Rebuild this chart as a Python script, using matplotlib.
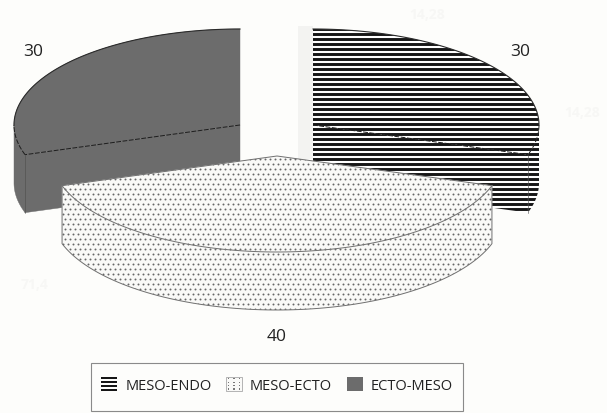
import numpy as np
import matplotlib
matplotlib.use('Agg')
import matplotlib.pyplot as plt
from matplotlib.legend_handler import HandlerBase
from matplotlib.patches import Patch, Polygon, Rectangle

# pie shares, clockwise from 12 o'clock
categories = ['MESO-ENDO', 'MESO-ECTO', 'ECTO-MESO']
values = [30, 40, 30]
value_labels = ['30', '40', '30']
ghost_labels = ['14,28', '14,28', '71,4']

plt.rcParams['font.family'] = ['Open Sans', 'DejaVu Sans']

paper = '#fdfdfb'
rx, ry, depth = 226, 96, 58
# exploded apex of each slice, in pixels
apex = {'MESO-ENDO': (313, 126), 'MESO-ECTO': (277, 157), 'ECTO-MESO': (240, 126)}
label_pos = {'MESO-ENDO': (520, 52), 'MESO-ECTO': (277, 337), 'ECTO-MESO': (33, 52)}
fills = {'MESO-ENDO': 'white', 'MESO-ECTO': '#f9f9f7', 'ECTO-MESO': '#6c6c6c'}
layer = {'ECTO-MESO': 2, 'MESO-ENDO': 3, 'MESO-ECTO': 4}  # front slice goes on top


def rim(cx, cy, a0, a1, drop=0):
    # ellipse points between two clockwise angles, degrees from 12 o'clock
    t = np.radians(np.linspace(a0, a1, 90))
    return np.column_stack([cx + rx * np.sin(t), cy - ry * np.cos(t) + drop])


def add_texture(ax, name, patch):
    # stripes and dots sit on a fixed 5 px pitch and get clipped to the face
    z = layer[name] + 0.2
    if name == 'MESO-ENDO':
        art = ax.hlines(np.arange(30, 220, 5.0), 300, 550, color='#161616', lw=2.1, zorder=z)
        art.set_clip_path(patch)
    elif name == 'MESO-ECTO':
        ys = np.arange(150, 320, 5.0)
        for k, y in enumerate(ys):
            xs = np.arange(55, 500, 5.0) + (k % 2) * 2.5
            art = ax.scatter(xs, np.full_like(xs, y), s=2.0, color='#666666', linewidths=0, zorder=z)
            art.set_clip_path(patch)


def face(ax, name, pts):
    patch = Polygon(pts, closed=True, facecolor=fills[name], edgecolor=fills[name],
                    linewidth=0.3, zorder=layer[name])
    ax.add_patch(patch)
    add_texture(ax, name, patch)


def draw_slice(ax, name, a0, a1):
    cx, cy = apex[name]
    top = rim(cx, cy, a0, a1)
    z = layer[name] + 0.4

    # radial wall, only where it faces the viewer
    for ang, vis in ((a0, 180 < a0 < 360), (a1, 0 < a1 < 180)):
        if vis:
            end = rim(cx, cy, ang, ang)[0]
            face(ax, name, [(cx, cy), end, end + (0, depth), (cx, cy + depth)])

    # outer wall on the front half of the rim
    lo, hi = max(a0, 90), min(a1, 270)
    if lo < hi:
        face(ax, name, np.vstack([rim(cx, cy, lo, hi), rim(cx, cy, hi, lo, depth)]))

    face(ax, name, np.vstack([[(cx, cy)], top]))

    if name == 'MESO-ECTO':
        line = dict(color='#707070', lw=0.7, zorder=z)
        ax.plot(*np.vstack([top[0], [(cx, cy)], top[-1]]).T, **line)
        ax.plot(*top.T, **line)
        lower = rim(cx, cy, a0, a1, depth)
        ax.plot(*np.vstack([top[0], lower, top[-1]]).T, **line)
    else:
        left = name == 'ECTO-MESO'
        edge = top[0] if left else top[-1]
        dash = dict(color='#1c1c1c', lw=0.7, ls=(0, (5, 1.5)), zorder=z)
        ax.plot([cx, edge[0]], [cy, edge[1]], **dash)
        ax.plot(*(rim(cx, cy, 252, 270) if left else rim(cx, cy, 90, 108)).T, **dash)
        ax.plot([edge[0], edge[0]], [edge[1], edge[1] + depth], color='#4a4a4a', lw=0.4, zorder=z)
        back = rim(cx, cy, 270, 360) if left else rim(cx, cy, 0, 90)
        ax.plot(*back.T, color='#2a2a2a', lw=0.8, zorder=z)


class SwatchHandler(HandlerBase):
    # small key boxes, drawn the same way as the slice they stand for
    def create_artists(self, legend, orig_handle, xd, yd, width, height, fontsize, trans):
        name = orig_handle.get_label()
        x0, y0 = -xd, -yd
        arts = []
        if name == 'MESO-ENDO':
            for k in range(4):
                arts.append(Rectangle((x0, y0 + k * height / 3.6), width, height * 0.17,
                                      facecolor='#161616', edgecolor='none'))
        elif name == 'MESO-ECTO':
            arts.append(Rectangle((x0, y0), width, height, facecolor=fills[name],
                                  edgecolor='#a8a8a8', linewidth=0.6))
            for i in range(3):
                for j in range(4):
                    arts.append(Rectangle((x0 + (i + 0.4) * width / 3, y0 + (j + 0.35) * height / 4),
                                          0.9, 0.9, facecolor='#777777', edgecolor='none'))
        else:
            arts.append(Rectangle((x0, y0), width, height, facecolor=fills[name], edgecolor='none'))
        for a in arts:
            a.set_transform(trans)
        return arts


fig = plt.figure(figsize=(6.07, 4.14), dpi=100, facecolor=paper)
ax = fig.add_axes([0, 0, 1, 1])
ax.set_xlim(0, 607)
ax.set_ylim(414, 0)
ax.axis('off')

# faint print-through from the other side of the sheet
ax.axvspan(298, 313, ymin=1 - 160 / 414, ymax=1 - 27 / 414, color='#f3f3f1', lw=0, zorder=1)
for txt, (x, y) in zip(ghost_labels, [(427, 15), (582, 113), (35, 285)]):
    ax.text(x, y, txt, color='#f7f7f5', fontsize=10, fontweight='bold', ha='center', va='center', zorder=1)

bounds = np.cumsum([0] + values) / sum(values) * 360
for i, name in enumerate(categories):
    draw_slice(ax, name, bounds[i], bounds[i + 1])

for name, lab in zip(categories, value_labels):
    x, y = label_pos[name]
    ax.text(x, y, lab, fontsize=12.5, color='#222222', ha='center', va='center', zorder=6)

ax.add_patch(Rectangle((91, 364), 372, 48, facecolor=paper, edgecolor='#8a8a8a', linewidth=0.8, zorder=6))
handles = [Patch(label=name) for name in categories]
leg = ax.legend(handles=handles, ncol=3, loc='center', bbox_to_anchor=(277, 386),
                bbox_transform=ax.transData, fontsize=10.5, frameon=False, handlelength=1.1,
                handleheight=1.08, handletextpad=0.55, columnspacing=1.0, borderpad=0,
                labelcolor='#222222', handler_map={Patch: SwatchHandler()})
leg.set_zorder(7)

fig.savefig('out.png', dpi=100, facecolor=paper)
